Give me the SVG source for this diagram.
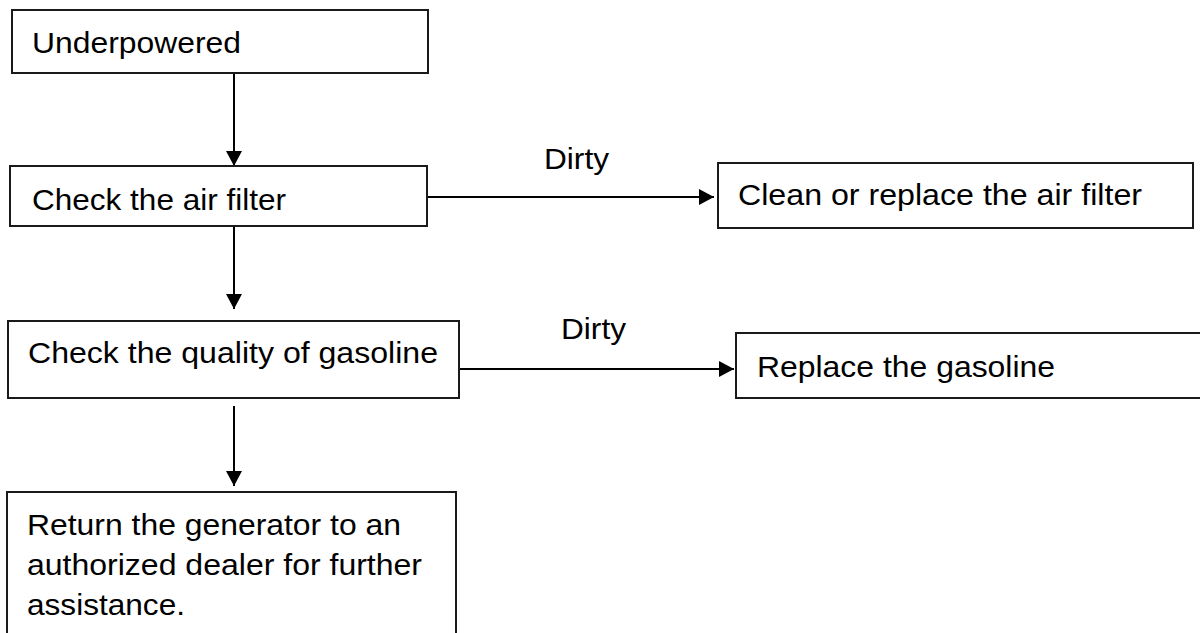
<svg xmlns="http://www.w3.org/2000/svg" width="1200" height="633" viewBox="0 0 1200 633">
<style>
.box{fill:#fff;stroke:#1a1a1a;stroke-width:2}
.t{font-family:"Liberation Sans",Arial,sans-serif;font-size:30px;fill:#000}
.ln{fill:none;stroke:#000;stroke-width:2}
</style>
<defs>
<marker id="ah" viewBox="0 0 15 16" refX="15" refY="8" markerWidth="15" markerHeight="16" markerUnits="userSpaceOnUse" orient="auto">
<path d="M0,0 L15,8 L0,16 Z" fill="#000"/>
</marker>
</defs>
<rect width="1200" height="633" fill="#fff"/>
<g id="connectors">
<line class="ln" x1="234" y1="73" x2="234" y2="166" marker-end="url(#ah)"/>
<line class="ln" x1="427" y1="197" x2="714" y2="197" marker-end="url(#ah)"/>
<line class="ln" x1="234" y1="226" x2="234" y2="309" marker-end="url(#ah)"/>
<line class="ln" x1="459" y1="369" x2="734" y2="369" marker-end="url(#ah)"/>
<line class="ln" x1="234" y1="406" x2="234" y2="486" marker-end="url(#ah)"/>
<text class="t" x="544" y="169" textLength="65" lengthAdjust="spacingAndGlyphs">Dirty</text>
<text class="t" x="561" y="339" textLength="65" lengthAdjust="spacingAndGlyphs">Dirty</text>
</g>
<g id="underpowered">
<rect class="box" x="12" y="10" width="416" height="63"/>
<text class="t" x="32" y="53" textLength="209" lengthAdjust="spacingAndGlyphs">Underpowered</text>
</g>
<g id="check-air-filter">
<rect class="box" x="10" y="166" width="417" height="60"/>
<text class="t" x="32" y="210" textLength="254" lengthAdjust="spacingAndGlyphs">Check the air filter</text>
</g>
<g id="clean-air-filter">
<rect class="box" x="718" y="163" width="475" height="65"/>
<text class="t" x="738" y="205" textLength="404" lengthAdjust="spacingAndGlyphs">Clean or replace the air filter</text>
</g>
<g id="check-gasoline">
<rect class="box" x="8" y="321" width="451" height="77"/>
<text class="t" x="28" y="363" textLength="410" lengthAdjust="spacingAndGlyphs">Check the quality of gasoline</text>
</g>
<g id="replace-gasoline">
<rect class="box" x="736" y="333" width="500" height="65"/>
<text class="t" x="757" y="377" textLength="298" lengthAdjust="spacingAndGlyphs">Replace the gasoline</text>
</g>
<g id="return-dealer">
<rect class="box" x="7" y="492" width="449" height="200"/>
<text class="t" x="27" y="535" textLength="374" lengthAdjust="spacingAndGlyphs">Return the generator to an</text>
<text class="t" x="27" y="575" textLength="395" lengthAdjust="spacingAndGlyphs">authorized dealer for further</text>
<text class="t" x="27" y="615" textLength="158" lengthAdjust="spacingAndGlyphs">assistance.</text>
</g>
</svg>
